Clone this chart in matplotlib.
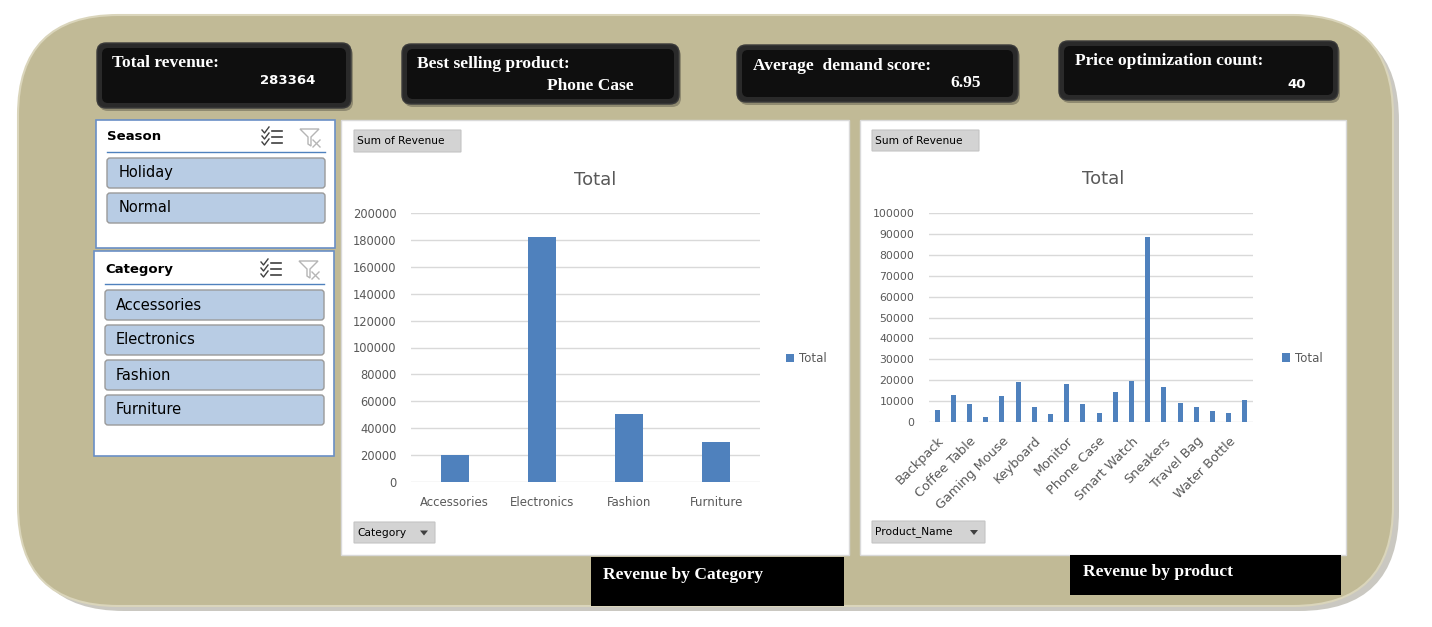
import matplotlib.pyplot as plt
from matplotlib.patches import FancyBboxPatch, Rectangle, Polygon

W, H = 1432, 627

# data
categories = ['Accessories', 'Electronics', 'Fashion', 'Furniture']
category_revenue = [20100, 182400, 50600, 29800]

products = ['Backpack', 'Bluetooth Speaker', 'Coffee Table', 'Desk Lamp', 'Gaming Mouse',
            'Headphones', 'Keyboard', 'Laptop', 'Monitor', 'Office Chair', 'Phone Case',
            'Running Shoes', 'Smart Watch', 'Smartphone', 'Sneakers', 'T-Shirt',
            'Travel Bag', 'Wallet', 'Water Bottle', 'Yoga Mat']
product_revenue = [5800, 13000, 8600, 2400, 12500, 19200, 7200, 3800, 18200, 8600,
                   4300, 14400, 19600, 88700, 16800, 9100, 7200, 5300, 4300, 10500]

kpi_titles = ['Total revenue:', 'Best selling product:', 'Average  demand score:',
              'Price optimization count:']
kpi_values = ['283364', 'Phone Case', '6.95', '40']
seasons = ['Holiday', 'Normal']

BLUE = '#4F81BD'
GREY_TXT = '#595959'

fig = plt.figure(figsize=(W / 100, H / 100), dpi=100)
fig.patch.set_facecolor('white')
bg = fig.add_axes([0, 0, 1, 1])
bg.set_xlim(0, W)
bg.set_ylim(H, 0)
bg.axis('off')


def rbox(x0, y0, x1, y1, r, **kw):
    p = FancyBboxPatch((x0, y0), x1 - x0, y1 - y0,
                       boxstyle=f'round,pad=0,rounding_size={r}', **kw)
    bg.add_patch(p)
    return p


def px_axes(x0, y0, x1, y1):
    return fig.add_axes([x0 / W, 1 - y1 / H, (x1 - x0) / W, (y1 - y0) / H])


# background panel
rbox(24, 21, 1399, 611, 100, fc='#8a8776', ec='none', alpha=0.45)
rbox(18, 15, 1393, 606, 100, fc='#C1BA96', ec='#dad5bb', lw=1.5)

# KPI cards
kpi_boxes = [(97, 43, 351, 108), (402, 44, 679, 104), (737, 45, 1018, 102), (1059, 41, 1338, 100)]
kpi_title_pos = [(112, 63), (417, 64), (753, 66), (1075, 61)]
kpi_value_pos = [(315, 81), (634, 86), (981, 83), (1306, 84)]
kpi_value_font = ['DejaVu Sans', 'Liberation Serif', 'Liberation Serif', 'DejaVu Sans']
for (x0, y0, x1, y1), t, v, tp, vp, vf in zip(kpi_boxes, kpi_titles, kpi_values,
                                              kpi_title_pos, kpi_value_pos, kpi_value_font):
    rbox(x0 + 2, y0 + 3, x1 + 2, y1 + 3, 9, fc='#6e6a58', ec='none', alpha=0.6)
    rbox(x0, y0, x1, y1, 9, fc='#2a2a2a', ec='#3a3a3a', lw=1)
    rbox(x0 + 5, y0 + 5, x1 - 5, y1 - 5, 6, fc='#0f0f0f', ec='none')
    bg.text(tp[0], tp[1], t, color='white', fontsize=12.5, fontweight='bold',
            family='Liberation Serif', va='center', ha='left')
    bg.text(vp[0], vp[1], v, color='white', va='center', ha='right', fontweight='bold',
            family=vf, fontsize=9.5 if vf == 'DejaVu Sans' else 12.5)


def slicer_icons(x, y):
    for dy in (-6, 0, 6):
        bg.plot([x, x + 2.5, x + 7], [y + dy - 1, y + dy + 2, y + dy - 4], color='#404040', lw=1)
        bg.plot([x + 10, x + 20], [y + dy, y + dy], color='#404040', lw=1.2)
    fx = x + 38
    bg.add_patch(Polygon([(fx, y - 8), (fx + 19, y - 8), (fx + 11, y), (fx + 11, y + 9),
                          (fx + 8, y + 7), (fx + 8, y)], closed=True, fc='white', ec='#b5b5b5', lw=1))
    bg.plot([fx + 13, fx + 20], [y + 3, y + 10], color='#b5b5b5', lw=1)
    bg.plot([fx + 13, fx + 20], [y + 10, y + 3], color='#b5b5b5', lw=1)


def slicer(box, title, items, title_y, btn_y0, text_x):
    x0, y0, x1, y1 = box
    bg.add_patch(Rectangle((x0, y0), x1 - x0, y1 - y0, fc='white', ec='#6a8fc6', lw=1.2))
    bg.text(x0 + 11, title_y, title, fontsize=9.5, fontweight='bold', color='black',
            va='center', ha='left')
    slicer_icons(x1 - 73, title_y)
    bg.plot([x0 + 11, x1 - 10], [title_y + 15, title_y + 15], color=BLUE, lw=1)
    for i, item in enumerate(items):
        by = btn_y0 + i * 35
        rbox(x0 + 11, by, x1 - 10, by + 30, 3, fc='#B8CCE4', ec='#9a9a9a', lw=1)
        bg.text(text_x, by + 15, item, fontsize=10.5, color='black', va='center', ha='left')


slicer((96, 120, 335, 248), 'Season', seasons, 137, 158, 119)
slicer((94, 251, 334, 456), 'Category', categories, 269, 290, 116)

# chart panels
bg.add_patch(Rectangle((341, 120), 508, 435, fc='white', ec='#d9d9d9', lw=1))
bg.add_patch(Rectangle((860, 120), 486, 435, fc='white', ec='#d9d9d9', lw=1))


def field_button(x0, y0, x1, y1, label, arrow=False):
    rbox(x0, y0, x1, y1, 0.5, fc='#D3D3D3', ec='#c4c4c4', lw=0.8)
    bg.text(x0 + 3, (y0 + y1) / 2, label, fontsize=7.7, color='black', va='center', ha='left')
    if arrow:
        ax_ = x1 - 11
        cy = (y0 + y1) / 2
        bg.add_patch(Polygon([(ax_ - 4, cy - 2), (ax_ + 4, cy - 2), (ax_, cy + 3)],
                             closed=True, fc='#404040', ec='none'))


field_button(354, 130, 461, 152, 'Sum of Revenue')
field_button(872, 130, 979, 151, 'Sum of Revenue')
field_button(354, 522, 435, 543, 'Category', arrow=True)
field_button(872, 521, 985, 543, 'Product_Name', arrow=True)

bg.text(595, 180, 'Total', fontsize=13, color=GREY_TXT, ha='center', va='center')
bg.text(1103, 179, 'Total', fontsize=13, color=GREY_TXT, ha='center', va='center')

# bottom black labels
bg.add_patch(Rectangle((591, 557), 253, 49, fc='black', ec='none'))
bg.text(603, 575, 'Revenue by Category', color='white', fontsize=12.5, fontweight='bold',
        family='Liberation Serif', va='center', ha='left')
bg.add_patch(Rectangle((1070, 555), 271, 40, fc='black', ec='none'))
bg.text(1083, 572, 'Revenue by product', color='white', fontsize=12.5, fontweight='bold',
        family='Liberation Serif', va='center', ha='left')


def style_axes(ax, ymax, step, ysize):
    ax.set_ylim(0, ymax)
    ax.set_yticks(range(0, ymax + 1, step))
    ax.yaxis.grid(True, color='#D9D9D9', lw=1, zorder=0)
    ax.set_axisbelow(True)
    for s in ax.spines.values():
        s.set_visible(False)
    ax.tick_params(length=0, colors=GREY_TXT)
    ax.tick_params(axis='y', labelsize=ysize, pad=10.5)
    ax.patch.set_alpha(0)


# chart 1: revenue by category
ax1 = px_axes(411, 213, 760, 482)
ax1.bar(range(len(categories)), category_revenue, width=0.32, color=BLUE, label='Total', zorder=3)
ax1.set_xlim(-0.5, len(categories) - 0.5)
style_axes(ax1, 200000, 20000, 8.3)
ax1.set_xticks(range(len(categories)), categories)
ax1.tick_params(axis='x', labelsize=8.5, pad=10)
ax1.legend(loc='center left', bbox_to_anchor=(786 / W, 1 - 359 / H), bbox_transform=fig.transFigure,
           frameon=False, handlelength=0.7, handleheight=0.7, handletextpad=0.4,
           borderpad=0, borderaxespad=0, fontsize=8.5, labelcolor=GREY_TXT)

# chart 2: revenue by product
ax2 = px_axes(929, 213, 1253, 422)
ax2.bar(range(len(products)), product_revenue, width=0.32, color=BLUE, label='Total', zorder=3)
ax2.set_xlim(-0.5, len(products) - 0.5)
style_axes(ax2, 100000, 10000, 7.8)
ax2.set_xticks(range(0, len(products), 2), products[::2])
ax2.tick_params(axis='x', labelsize=9.3, pad=9)
for lbl in ax2.get_xticklabels():
    lbl.set_rotation(45)
    lbl.set_ha('right')
    lbl.set_va('top')
    lbl.set_rotation_mode('anchor')
ax2.legend(loc='center left', bbox_to_anchor=(1282 / W, 1 - 358 / H), bbox_transform=fig.transFigure,
           frameon=False, handlelength=0.7, handleheight=0.7, handletextpad=0.4,
           borderpad=0, borderaxespad=0, fontsize=8.5, labelcolor=GREY_TXT)

fig.savefig('out.png', dpi=100, facecolor='white')
